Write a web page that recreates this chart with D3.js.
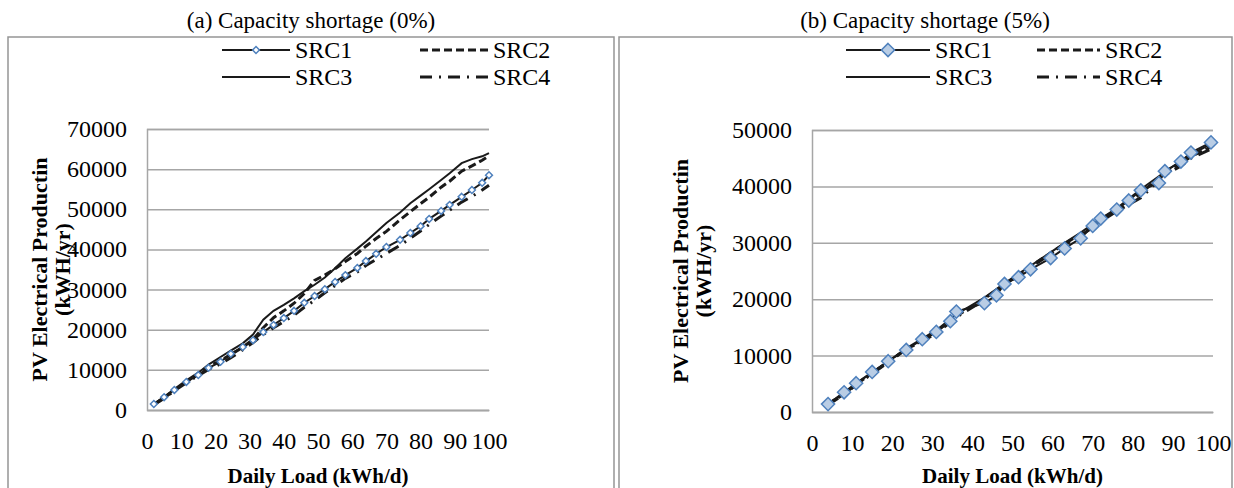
<!DOCTYPE html>
<html>
<head>
<meta charset="utf-8">
<script src="https://cdn.jsdelivr.net/npm/d3@7"></script>
<style>
  body { margin: 0; background: #fff; }
</style>
</head>
<body>
<script>
// panel (a) - capacity shortage 0%
var loadA = [2, 5, 8, 11.5, 15, 18, 21.5, 24.5, 28, 31, 34, 37, 40, 43, 46, 49, 52, 55, 58, 61.5, 64, 67, 70, 74, 77, 80, 82.5, 86, 88.5, 92, 95, 98, 100]
var src1A = [1500, 3200, 5000, 7000, 8700, 10500, 12000, 14000, 15700, 17400, 19400, 21200, 22900, 24700, 26700, 28400, 30100, 31900, 33600, 35400, 37100, 38900, 40600, 42400, 44100, 45800, 47600, 49600, 51100, 53100, 54800, 56600, 58500]
var src2A = [1400, 3000, 4900, 7000, 9000, 10900, 12300, 13800, 15600, 17600, 20500, 23000, 24700, 26600, 29000, 32300, 33600, 35200, 37000, 39000, 40800, 42700, 44500, 47400, 49400, 51400, 53000, 55500, 57000, 59500, 60800, 62200, 63300]
var src3A = [1500, 3300, 5200, 7400, 9300, 11300, 13200, 14800, 16600, 18800, 22500, 24700, 26200, 27800, 29600, 31200, 33000, 35300, 37800, 40200, 42000, 44300, 46600, 49200, 51500, 53400, 55000, 57300, 59000, 61500, 62500, 63200, 64000]
var src4A = [1300, 2900, 4800, 6800, 8600, 10100, 11500, 13000, 15000, 16800, 18800, 20500, 22000, 23600, 25600, 27300, 29200, 31000, 32800, 34400, 36000, 37500, 39000, 41000, 42800, 44600, 46200, 48300, 49800, 51800, 53200, 54800, 56000]

// panel (b) - capacity shortage 5%
var loadB = [4, 8, 11, 15, 19, 23.5, 27.5, 31, 34.5, 36, 43, 46, 48, 51.5, 54.5, 59.5, 63, 67, 70, 72, 76, 79, 82, 86.5, 88, 92, 94.5, 99.5]
var src1B = [1400, 3500, 5100, 7100, 9000, 11000, 12900, 14200, 16100, 17800, 19300, 20700, 22700, 23900, 25300, 27300, 29000, 30800, 33000, 34300, 35900, 37500, 39300, 40600, 42700, 44400, 46000, 47800]
var src2B = [1400, 3200, 4900, 6900, 8900, 11100, 12700, 14300, 16200, 17000, 20100, 21600, 22600, 24300, 25800, 28200, 29800, 31600, 33000, 34000, 35800, 37200, 38800, 41500, 42300, 44000, 45300, 47000]
var src3B = [1500, 3300, 5000, 7000, 9000, 11300, 13000, 14500, 16500, 17300, 20300, 21800, 22800, 24500, 25900, 28300, 30000, 31800, 33300, 34300, 36100, 37800, 39500, 41800, 42600, 44500, 45700, 47500]
var src4B = [1300, 3100, 4800, 6800, 8800, 11200, 12500, 14000, 15900, 16800, 19900, 21400, 22500, 24200, 25700, 28000, 29600, 31300, 32700, 33800, 35600, 36800, 38000, 41000, 42000, 43600, 45000, 46600]

var seriesNames = ['SRC1', 'SRC2', 'SRC3', 'SRC4']
var xTicks = [0, 10, 20, 30, 40, 50, 60, 70, 80, 90, 100]
var yTicksA = [0, 10000, 20000, 30000, 40000, 50000, 60000, 70000]
var yTicksB = [0, 10000, 20000, 30000, 40000, 50000]

var FONT = "'Liberation Serif', 'Times New Roman', 'DejaVu Serif', serif"

var svg = d3.select('body').append('svg')
  .attr('width', 1234)
  .attr('height', 488)
  .attr('font-family', FONT)

// line styles per series
var styles = {
  SRC1: { width: 2, dash: null },
  SRC2: { width: 3, dash: '8,4' },
  SRC3: { width: 2, dash: null },
  SRC4: { width: 3, dash: '12,7,2,7' }
}

function drawPanel (cfg) {
  var g = svg.append('g')

  g.append('rect')
    .attr('x', cfg.box[0]).attr('y', cfg.box[1])
    .attr('width', cfg.box[2]).attr('height', cfg.box[3])
    .attr('fill', 'none').attr('stroke', '#959595').attr('stroke-width', 1.5)

  g.append('text')
    .attr('x', cfg.titleX).attr('y', 28)
    .attr('text-anchor', 'middle')
    .style('font-size', '23px')
    .text(cfg.title)

  var x = d3.scaleLinear().domain([0, 100]).range([cfg.plot.left, cfg.plot.right])
  var y = d3.scaleLinear().domain([0, cfg.yMax]).range([cfg.plot.bottom, cfg.plot.top])

  // gridlines
  g.append('g')
    .attr('transform', 'translate(' + cfg.plot.left + ',0)')
    .call(d3.axisLeft(y).tickValues(cfg.yTicks).tickSize(-(cfg.plot.right - cfg.plot.left)).tickFormat(''))
    .call(function (ax) {
      ax.select('.domain').attr('stroke', '#a6a6a6').attr('stroke-width', 1.5)
      ax.selectAll('line').attr('stroke', '#a6a6a6').attr('stroke-width', 1.5)
    })

  // y tick labels
  g.selectAll('.ylab').data(cfg.yTicks).enter().append('text')
    .attr('x', cfg.plot.left - 20)
    .attr('y', function (d) { return y(d) + 8 })
    .attr('text-anchor', 'end')
    .style('font-size', '24px')
    .text(function (d) { return d })

  // x axis
  var xAxis = g.append('g')
    .attr('transform', 'translate(0,' + cfg.plot.bottom + ')')
    .call(d3.axisBottom(x).tickValues(xTicks).tickSize(0).tickPadding(22))
  xAxis.select('.domain').attr('stroke', '#a6a6a6').attr('stroke-width', 1.5)
  xAxis.selectAll('text')
    .attr('fill', '#000')
    .style('font-size', '24px')

  // axis titles
  g.append('text')
    .attr('x', (cfg.plot.left + cfg.plot.right) / 2).attr('y', 483)
    .attr('text-anchor', 'middle')
    .style('font-size', '21px').style('font-weight', 'bold')
    .text('Daily Load (kWh/d)')

  var ymid = (cfg.plot.top + cfg.plot.bottom) / 2
  g.append('text')
    .attr('transform', 'translate(' + cfg.ylabX + ',' + ymid + ') rotate(-90)')
    .attr('text-anchor', 'middle')
    .style('font-size', '22px').style('font-weight', 'bold')
    .text('PV Electrical Productin')
  g.append('text')
    .attr('transform', 'translate(' + (cfg.ylabX + 23) + ',' + ymid + ') rotate(-90)')
    .attr('text-anchor', 'middle')
    .style('font-size', '22px').style('font-weight', 'bold')
    .text('(kWH/yr)')

  var line = d3.line()
    .x(function (d) { return x(d[0]) })
    .y(function (d) { return y(d[1]) })

  // SRC4, SRC2, SRC3 first, SRC1 with markers on top
  var order = [3, 1, 2, 0]
  order.forEach(function (i) {
    var name = seriesNames[i]
    var pts = cfg.load.map(function (v, j) { return [v, cfg.series[i][j]] })
    g.append('path')
      .datum(pts)
      .attr('d', line)
      .attr('fill', 'none')
      .attr('stroke', '#1a1a1a')
      .attr('stroke-width', styles[name].width)
      .attr('stroke-dasharray', styles[name].dash)
    if (name === 'SRC1') {
      g.selectAll('.mk').data(pts).enter().append('path')
        .attr('d', d3.symbol().type(d3.symbolDiamond2).size(cfg.mkSize))
        .attr('transform', function (d) { return 'translate(' + x(d[0]) + ',' + y(d[1]) + ')' })
        .attr('fill', cfg.mkFill)
        .attr('stroke', '#4f81bd')
        .attr('stroke-width', 1.5)
    }
  })

  // legend
  seriesNames.forEach(function (name, i) {
    var col = i % 2
    var row = Math.floor(i / 2)
    var lx = cfg.legend.cols[col]
    var ly = cfg.legend.rows[row]
    g.append('line')
      .attr('x1', lx[0]).attr('x2', lx[1])
      .attr('y1', ly).attr('y2', ly)
      .attr('stroke', '#1a1a1a')
      .attr('stroke-width', styles[name].width)
      .attr('stroke-dasharray', styles[name].dash)
    if (name === 'SRC1') {
      g.append('path')
        .attr('d', d3.symbol().type(d3.symbolDiamond2).size(cfg.mkSize))
        .attr('transform', 'translate(' + (lx[0] + lx[1]) / 2 + ',' + ly + ')')
        .attr('fill', cfg.mkFill)
        .attr('stroke', '#4f81bd')
        .attr('stroke-width', 1.5)
    }
    g.append('text')
      .attr('x', lx[1] + 5).attr('y', ly + 8)
      .style('font-size', '24px')
      .text(name)
  })
}

drawPanel({
  box: [8, 37, 606, 460],
  title: '(a) Capacity shortage (0%)',
  titleX: 311,
  plot: { left: 147, right: 489, top: 129, bottom: 410 },
  yMax: 70000,
  yTicks: yTicksA,
  ylabX: 47,
  load: loadA,
  series: [src1A, src2A, src3A, src4A],
  mkSize: 30,
  mkFill: '#ffffff',
  legend: { cols: [[222, 290], [420, 488]], rows: [50, 77] }
})

drawPanel({
  box: [619, 37, 613, 460],
  title: '(b) Capacity shortage (5%)',
  titleX: 925,
  plot: { left: 812, right: 1213, top: 130, bottom: 412 },
  yMax: 50000,
  yTicks: yTicksB,
  ylabX: 688,
  load: loadB,
  series: [src1B, src2B, src3B, src4B],
  mkSize: 110,
  mkFill: '#b9cde5',
  legend: { cols: [[846, 930], [1037, 1100]], rows: [50, 77] }
})

// make sure every label uses the serif face
svg.selectAll('text').style('font-family', FONT)
</script>
</body>
</html>
